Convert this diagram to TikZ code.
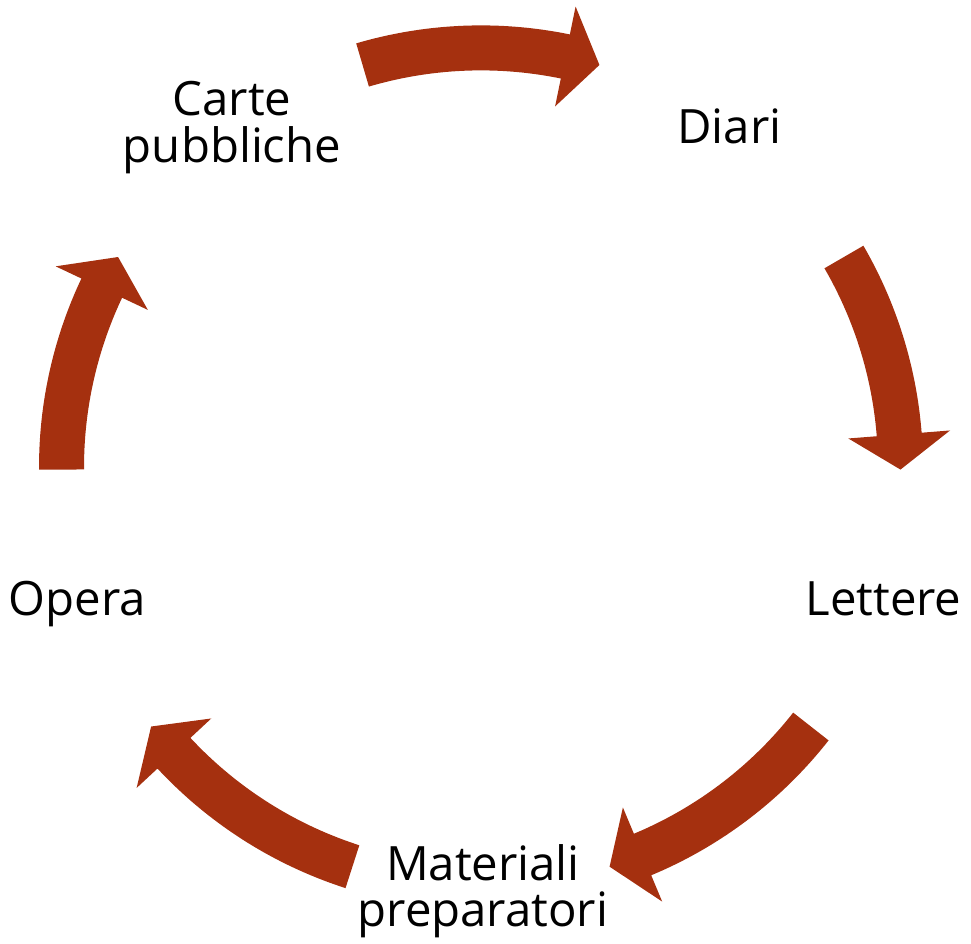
\documentclass[tikz,border=0pt]{standalone}
\usepackage{fontspec}
\setmainfont{Open Sans}
\definecolor{arrowred}{RGB}{165,48,15}
\newcommand\cyclearrow[2]{%
  \pgfmathsetmacro\hb{#2+4.8}%
  \fill[arrowfill] plot[domain=#1:\hb, samples=40] (\x:442) -- (\hb:470.5) -- (#2:419.5) -- (\hb:368.5) -- plot[domain=\hb:#1, samples=40] (\x:397) -- cycle;
}
\tikzset{
  arrowfill/.style={fill=arrowred, draw=none},
  lbl/.style={font=\fontsize{35.5pt}{35pt}\selectfont, inner sep=0pt, anchor=base, align=center, text=black}
}
\begin{document}
\begin{tikzpicture}[x=0.75pt,y=0.75pt]
\useasboundingbox (0,0) rectangle (971,944);
\coordinate (C) at (481,476.6);
\begin{scope}[shift={(C)}]
  \cyclearrow{106.4}{73.6}
  \cyclearrow{30.1}{-0.3}
  \cyclearrow{-38.15}{-72.15}
  \cyclearrow{-107.85}{-141.85}
  \cyclearrow{180.3}{149.9}
\end{scope}
\node[lbl] (carte) at (232,781.5) {Carte\\pubbliche};
\node[lbl] (diari) at (729.5,800.7) {Diari};
\node[lbl] (lettere) at (883.5,328) {Lettere};
\node[lbl] (opera) at (77.5,328) {Opera};
\node[lbl] (materiali) at (483,17) {Materiali\\preparatori};
\end{tikzpicture}
\end{document}
